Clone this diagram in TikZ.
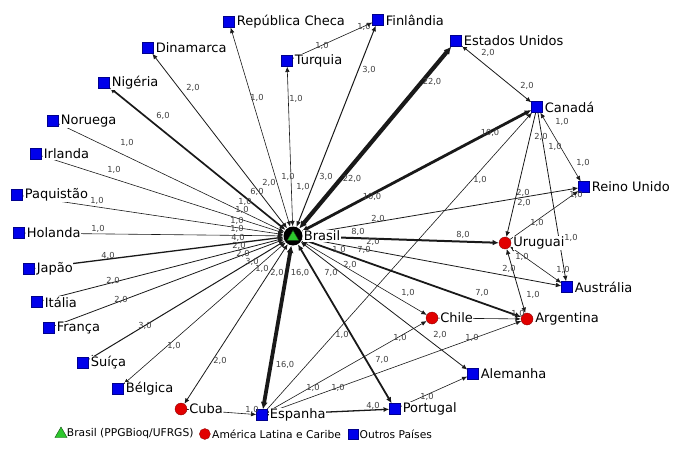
\documentclass[tikz,border=0pt]{standalone}
\usepackage{fontspec}
\setmainfont{DejaVu Sans}
\usetikzlibrary{arrows.meta,positioning,shapes.geometric}
\pgfdeclarelayer{bg}
\pgfsetlayers{bg,main}
\definecolor{verde}{RGB}{45,200,45}
\definecolor{azul}{RGB}{0,0,235}
\definecolor{vermelho}{RGB}{225,0,0}
\tikzset{
  pais/.style={rectangle,fill=azul,draw=azul!60!black,line width=.3pt,minimum size=11pt,inner sep=0pt},
  latam/.style={circle,fill=vermelho,draw=vermelho!60!black,line width=.3pt,minimum size=12pt,inner sep=0pt},
  ufrgs/.style={regular polygon,regular polygon sides=3,fill=verde,draw=verde!40!black,line width=.4pt,minimum size=14pt,inner sep=0pt},
  nome/.style={fill=white,inner sep=.5pt,font=\fontsize{13}{15}\selectfont},
  leg/.style={inner sep=.5pt,font=\fontsize{10.7}{12}\selectfont},
  peso/.style={inner sep=0pt,text=black!75,font=\fontsize{8.3}{9}\selectfont},
  lig/.style={draw=black!90,line width=#1,{Latex[length=5pt .6,width=4pt .8]}-{Latex[length=5pt .6,width=4pt .8]}},
  ida/.style={draw=black!90,line width=#1,-{Latex[length=5pt .6,width=4pt .8]}}
}
\begin{document}
\begin{tikzpicture}[x=1pt,y=-1pt]
  \useasboundingbox (0,0) rectangle (673,463);

  \node[circle,fill=black,minimum size=19pt,inner sep=0pt] (braC) at (293,236) {};
  \node[ufrgs,minimum size=13pt] (bra) at (293,237) {};
  \node[nome,right=.5pt of braC] (braN) {Brasil};

  \node[latam] (uru) at (505,243) {};
  \node[latam] (chi) at (432,318) {};
  \node[latam] (arg) at (527,319) {};
  \node[latam] (cub) at (181,409) {};

  \node[pais] (rch) at (229,22) {};
  \node[pais] (fin) at (378,20) {};
  \node[pais] (eua) at (456,41) {};
  \node[pais] (din) at (148,48) {};
  \node[pais] (tur) at (287,61) {};
  \node[pais] (nig) at (104,83) {};
  \node[pais] (can) at (537,107) {};
  \node[pais] (nor) at (53,121) {};
  \node[pais] (irl) at (36,154) {};
  \node[pais] (paq) at (17,195) {};
  \node[pais] (ru) at (584,187) {};
  \node[pais] (hol) at (19,233) {};
  \node[pais] (jap) at (29,269) {};
  \node[pais] (ita) at (37,302) {};
  \node[pais] (aus) at (567,287) {};
  \node[pais] (fra) at (49,328) {};
  \node[pais] (sui) at (83,363) {};
  \node[pais] (bel) at (118,389) {};
  \node[pais] (ale) at (473,374) {};
  \node[pais] (esp) at (262,415) {};
  \node[pais] (por) at (395,409) {};

  \node[nome,right=1.5pt of uru] (uruN) {Uruguai};
  \node[nome,right=1.5pt of chi] (chiN) {Chile};
  \node[nome,right=1.5pt of arg] (argN) {Argentina};
  \node[nome,right=1.5pt of cub] (cubN) {Cuba};
  \node[nome,right=1.5pt of rch] (rchN) {República Checa};
  \node[nome,right=1.5pt of fin] (finN) {Finlândia};
  \node[nome,right=1.5pt of eua] (euaN) {Estados Unidos};
  \node[nome,right=1.5pt of din] (dinN) {Dinamarca};
  \node[nome,right=1.5pt of tur] (turN) {Turquia};
  \node[nome,right=1.5pt of nig] (nigN) {Nigéria};
  \node[nome,right=1.5pt of can] (canN) {Canadá};
  \node[nome,right=1.5pt of nor] (norN) {Noruega};
  \node[nome,right=1.5pt of irl] (irlN) {Irlanda};
  \node[nome,right=1.5pt of paq] (paqN) {Paquistão};
  \node[nome,right=1.5pt of ru] (ruN) {Reino Unido};
  \node[nome,right=1.5pt of hol] (holN) {Holanda};
  \node[nome,right=1.5pt of jap] (japN) {Japão};
  \node[nome,right=1.5pt of ita] (itaN) {Itália};
  \node[nome,right=1.5pt of aus] (ausN) {Austrália};
  \node[nome,right=1.5pt of fra] (fraN) {França};
  \node[nome,right=1.5pt of sui] (suiN) {Suíça};
  \node[nome,right=1.5pt of bel] (belN) {Bélgica};
  \node[nome,right=1.5pt of ale] (aleN) {Alemanha};
  \node[nome,right=1.5pt of esp] (espN) {Espanha};
  \node[nome,right=1.5pt of por] (porN) {Portugal};

  \begin{pgfonlayer}{bg}
    \foreach \n/\w in {rch/.6,tur/.6,fin/1,eua/4.2,din/.8,nig/1.7,nor/.6,irl/.6,paq/.6,hol/.6,
                       jap/1.3,ita/.8,fra/.8,sui/1,bel/.6,cub/.8,esp/3.8,por/1.8,ale/.8,chi/.6,
                       arg/1.8,aus/.8,uru/2,ru/.8,can/2.8}
      \draw[lig=\w] (braC) -- (\n);
    \draw[ida=.6] (tur) -- (fin);
    \draw[lig=.8] (eua) -- (can);
    \draw[lig=.6] (can) -- (ru);
    \draw[ida=.8] (can) -- (uru);
    \draw[ida=.8] (can) -- (aus);
    \draw[ida=.6] (uru) -- (ru);
    \draw[lig=.6] (uru) -- (aus);
    \draw[lig=.8] (uru) -- (arg);
    \draw[ida=.6] (chi) -- (arg);
    \draw[ida=.6] (esp) -- (chi);
    \draw[ida=.6] (esp) -- (arg);
    \draw[ida=.6] (esp) -- (can);
    \draw[ida=.6] (cub) -- (esp);
    \draw[ida=1.3] (esp) -- (por);
    \draw[ida=.6] (por) -- (ale);
  \end{pgfonlayer}

  \foreach \x/\y/\v [count=\i] in {257/98/1,288/177/1,296/99/1,303/187/1,369/70/3,326/177/3,
      432/82/22,352/179/22,193/88/2,269/183/2,163/116/6,257/192/6,127/143/1,245/202/1,
      114/170/1,242/210/1,97/201/1,237/221/1,98/229/1,237/229/1,108/256/4,238/238/4,
      113/281/2,239/246/2,121/300/2,243/254/2,145/326/3,252/262/3,174/346/1,262/269/1,
      220/361/2,277/273/2,285/365/16,300/273/16,382/360/7,331/273/7,440/335/2,350/265/2,
      408/293/1,339/250/1,482/293/7,364/250/7,509/269/2,373/242/2,463/235/8,358/232/8,
      523/193/2,378/219/2,490/133/10,372/197/10,322/46/1,364/27/1,488/53/2,527/86/2,
      562/122/1,555/147/1,583/163/1,541/137/2,480/180/1,524/203/2,576/195/1,537/223/1,
      571/238/1,522/257/1,563/270/1,533/295/1,518/314/1,313/388/1,400/338/1,338/388/1,
      472/338/1,342/335/1,252/410/1,373/406/4,427/397/1}
    \node[peso] (w\i) at (\x,\y) {\v,0};

  \node[ufrgs,minimum size=14pt] (lgB) at (61,434) {};
  \node[leg,right=1pt of lgB] (lgBt) {Brasil (PPGBioq/UFRGS)};
  \node[latam,minimum size=11pt,right=5pt of lgBt] (lgL) {};
  \node[leg,right=1pt of lgL] (lgLt) {América Latina e Caribe};
  \node[pais,minimum size=10pt,right=6pt of lgLt] (lgO) {};
  \node[leg,right=1pt of lgO] (lgOt) {Outros Países};
\end{tikzpicture}
\end{document}
